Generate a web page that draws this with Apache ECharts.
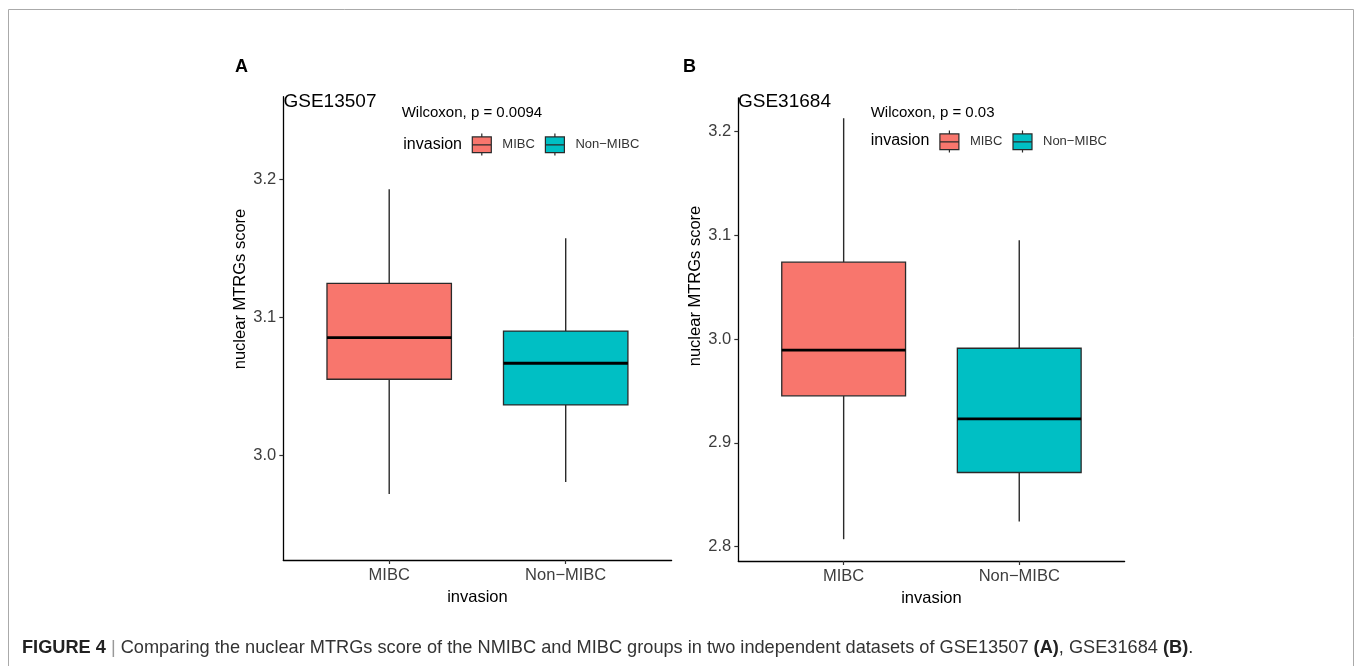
<!DOCTYPE html>
<html>
<head>
<meta charset="utf-8">
<script src="https://cdn.jsdelivr.net/npm/echarts@6/dist/echarts.min.js"></script>
<style>
html,body{margin:0;padding:0;background:#fff;}
#chart{width:1356px;height:666px;}
</style>
</head>
<body>
<div id="chart"></div>
<script>
// ---- data ----
const categories = ['MIBC', 'Non\u2212MIBC'];
// [lower whisker, Q1, median, Q3, upper whisker]
const gse13507_MIBC    = [2.9723, 3.0553, 3.0854, 3.1247, 3.1928];
const gse13507_NonMIBC = [2.9810, 3.0367, 3.0669, 3.0902, 3.1573];
const gse31684_MIBC    = [2.8072, 2.9454, 2.9894, 3.0742, 3.2130];
const gse31684_NonMIBC = [2.8243, 2.8715, 2.9232, 2.9913, 3.0954];
const yTicksA = [3.0, 3.1, 3.2];
const yTicksB = [2.8, 2.9, 3.0, 3.1, 3.2];
const xTicks = [1, 2];
const pLabels = ['Wilcoxon, p = 0.0094', 'Wilcoxon, p = 0.03'];
const datasetNames = ['GSE13507', 'GSE31684'];
const yTitle = 'nuclear MTRGs score';
const xTitle = 'invasion';

const FILL = ['#F8766D', '#00BFC4'];
const STROKE = '#2a2a2a';
const FONT = '"Liberation Sans", Arial, sans-serif';
const BOX_HALF = 0.3525;

const chart = echarts.init(document.getElementById('chart'), null, {renderer: 'canvas'});

function renderBox(params, api) {
  const x = api.value(0);
  const pMin = api.coord([x, api.value(1)]);
  const pQ1 = api.coord([x, api.value(2)]);
  const pMed = api.coord([x, api.value(3)]);
  const pQ3 = api.coord([x, api.value(4)]);
  const pMax = api.coord([x, api.value(5)]);
  const hw = api.size([BOX_HALF, 0])[0];
  return {
    type: 'group',
    children: [
      {type: 'line', shape: {x1: pMin[0], y1: pMin[1], x2: pQ1[0], y2: pQ1[1]}, style: {stroke: STROKE, lineWidth: 1.4}},
      {type: 'line', shape: {x1: pQ3[0], y1: pQ3[1], x2: pMax[0], y2: pMax[1]}, style: {stroke: STROKE, lineWidth: 1.4}},
      {type: 'rect', shape: {x: pQ3[0] - hw, y: pQ3[1], width: 2 * hw, height: pQ1[1] - pQ3[1]},
        style: {fill: api.visual('color'), stroke: STROKE, lineWidth: 1.3}},
      {type: 'line', shape: {x1: pMed[0] - hw, y1: pMed[1], x2: pMed[0] + hw, y2: pMed[1]}, style: {stroke: '#000', lineWidth: 2.8}}
    ]
  };
}

function boxSeries(idx, name, xv, vals, color) {
  return {
    type: 'custom', name: name, xAxisIndex: idx, yAxisIndex: idx,
    itemStyle: {color: color},
    encode: {x: 0, y: [1, 2, 3, 4, 5]},
    renderItem: renderBox,
    data: [[xv].concat(vals)],
    silent: true
  };
}

function xAxisCfg(idx) {
  return {
    gridIndex: idx, type: 'value', min: 0.4, max: 2.6,
    splitLine: {show: false},
    axisLine: {show: true, onZero: false, lineStyle: {color: '#000', width: 1.3}},
    axisTick: {show: true, customValues: xTicks, length: 4, lineStyle: {color: '#333', width: 1.2}},
    axisLabel: {customValues: xTicks, formatter: v => categories[Math.round(v) - 1], fontSize: 16.5, fontFamily: FONT, color: '#3d3d3d', margin: 7},
    name: xTitle, nameLocation: 'middle', nameGap: 25,
    nameTextStyle: {fontSize: 16.5, fontFamily: FONT, color: '#000'}
  };
}
function yAxisCfg(idx, mn, mx, ticks) {
  return {
    gridIndex: idx, type: 'value', min: mn, max: mx,
    splitLine: {show: false},
    axisLine: {show: true, onZero: false, lineStyle: {color: '#000', width: 1.3}},
    axisTick: {show: true, customValues: ticks, length: 4, lineStyle: {color: '#333', width: 1.2}},
    axisLabel: {customValues: ticks, formatter: v => v.toFixed(1), fontSize: 16.5, fontFamily: FONT, color: '#3d3d3d', margin: 7}
  };
}

const legendIcon = 'path://M0,3.3H19V19H0Z M9.5,0V3.3 M9.5,19V22 M0,11.2H19';
function legendCfg(left, top) {
  return {
    left: left, top: top, orient: 'horizontal', padding: 0,
    itemWidth: 19, itemHeight: 22, itemGap: 10, icon: legendIcon,
    selectedMode: false,
    data: categories,
    itemStyle: {borderColor: STROKE, borderWidth: 1.2},
    textStyle: {fontSize: 13, fontFamily: FONT, color: '#333', padding: [0, 0, 0, 6]}
  };
}

function txt(text, x, y, size, opts) {
  return {
    type: 'text', silent: true,
    style: Object.assign({text: text, x: x, y: y, fontSize: size, fontFamily: FONT, fill: '#000',
      align: 'left', verticalAlign: 'middle'}, opts || {})
  };
}
function yTitleText(x, y) {
  return {
    type: 'text', silent: true, x: x, y: y, rotation: Math.PI / 2,
    style: {text: yTitle, x: 0, y: 0, fontSize: 16.5, fontFamily: FONT, fill: '#000', align: 'center', verticalAlign: 'middle'}
  };
}

const option = {
  backgroundColor: '#fff',
  animation: false,
  grid: [
    {left: 283.3, top: 96.7, width: 388.3, bottom: 106},
    {left: 738.3, top: 98, width: 386.3, bottom: 105}
  ],
  xAxis: [xAxisCfg(0), xAxisCfg(1)],
  yAxis: [yAxisCfg(0, 2.9245, 3.2598, yTicksA), yAxisCfg(1, 2.7862, 3.2325, yTicksB)],
  legend: [legendCfg(471.7, 133), legendCfg(939.3, 130)],
  series: [
    boxSeries(0, categories[0], xTicks[0], gse13507_MIBC, FILL[0]),
    boxSeries(0, categories[1], xTicks[1], gse13507_NonMIBC, FILL[1]),
    boxSeries(1, categories[0], xTicks[0], gse31684_MIBC, FILL[0]),
    boxSeries(1, categories[1], xTicks[1], gse31684_NonMIBC, FILL[1])
  ],
  graphic: [
    {type: 'line', silent: true, shape: {x1: 8.5, y1: 9.5, x2: 1353.5, y2: 9.5}, style: {stroke: '#aaaaaa', lineWidth: 1}},
    {type: 'line', silent: true, shape: {x1: 8.5, y1: 9.5, x2: 8.5, y2: 666}, style: {stroke: '#aaaaaa', lineWidth: 1}},
    {type: 'line', silent: true, shape: {x1: 1353.5, y1: 9.5, x2: 1353.5, y2: 666}, style: {stroke: '#aaaaaa', lineWidth: 1}},
    txt('A', 235, 67.5, 18, {fontWeight: 'bold'}),
    txt('B', 683, 67.5, 18, {fontWeight: 'bold'}),
    txt(datasetNames[0], 283.5, 101.5, 19),
    txt(datasetNames[1], 738, 101.5, 19),
    txt(pLabels[0], 401.7, 113, 15),
    txt(pLabels[1], 870.7, 113, 15),
    txt(xTitle, 403.3, 144.3, 16),
    txt(xTitle, 870.7, 141, 16),
    yTitleText(240, 289),
    yTitleText(695, 286),
    {
      type: 'text', silent: true,
      style: {
        x: 22, y: 648, verticalAlign: 'middle', align: 'left',
        text: '{b|FIGURE 4} {s||} Comparing the nuclear MTRGs score of the NMIBC and MIBC groups in two independent datasets of GSE13507 {b|(A)}, GSE31684 {b|(B)}.',
        fontSize: 18.2, fontFamily: FONT, fill: '#333',
        rich: {
          b: {fontSize: 18.2, fontFamily: FONT, fontWeight: 'bold', fill: '#222'},
          s: {fontSize: 18.2, fontFamily: FONT, fill: '#999'}
        }
      }
    }
  ]
};
chart.setOption(option);
</script>
</body>
</html>
